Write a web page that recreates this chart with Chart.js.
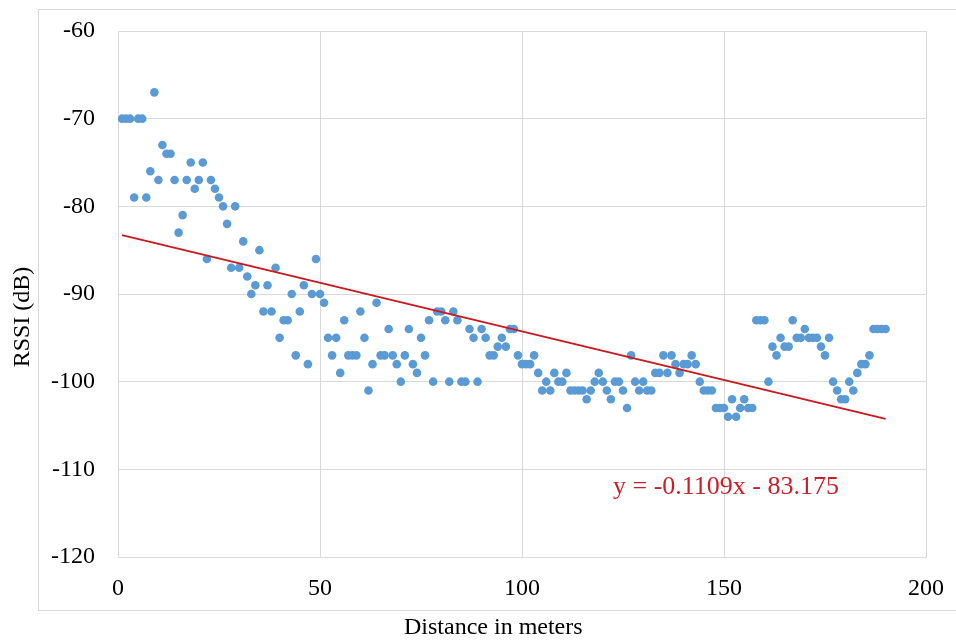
<!DOCTYPE html>
<html>
<head>
<meta charset="utf-8">
<script src="https://cdn.jsdelivr.net/npm/chart.js@4.4.1/dist/chart.umd.min.js"></script>
<style>
html,body{margin:0;padding:0;background:#fff;}
#wrap{width:956px;height:641px;position:relative;}
</style>
</head>
<body>
<div id="wrap"><canvas id="c" width="956" height="641"></canvas></div>
<script>
// ---- data ----
const distances = [
  1,2,3,4,5,6,7,8,9,10,11,12,13,14,15,16,17,18,19,20,
  21,22,23,24,25,26,27,28,29,30,31,32,33,34,35,36,37,38,39,40,
  41,42,43,44,45,46,47,48,49,50,51,52,53,54,55,56,57,58,59,60,
  61,62,63,64,65,66,67,68,69,70,71,72,73,74,75,76,77,78,79,80,
  81,82,83,84,85,86,87,88,89,90,91,92,93,94,95,96,97,98,99,100,
  101,102,103,104,105,106,107,108,109,110,111,112,113,114,115,116,117,118,119,120,
  121,122,123,124,125,126,127,128,129,130,131,132,133,134,135,136,137,138,139,140,
  141,142,143,144,145,146,147,148,149,150,151,152,153,154,155,156,157,158,159,160,
  161,162,163,164,165,166,167,168,169,170,171,172,173,174,175,176,177,178,179,180,
  181,182,183,184,185,186,187,188,189,190
];
const rssi = [
  -70,-70,-70,-79,-70,-70,-79,-76,-67,-77,-73,-74,-74,-77,-83,-81,-77,-75,-78,-77,
  -75,-86,-77,-78,-79,-80,-82,-87,-80,-87,-84,-88,-90,-89,-85,-92,-89,-92,-87,-95,
  -93,-93,-90,-97,-92,-89,-98,-90,-86,-90,-91,-95,-97,-95,-99,-93,-97,-97,-97,-92,
  -95,-101,-98,-91,-97,-97,-94,-97,-98,-100,-97,-94,-98,-99,-95,-97,-93,-100,-92,-92,
  -93,-100,-92,-93,-100,-100,-94,-95,-100,-94,-95,-97,-97,-96,-95,-96,-94,-94,-97,-98,
  -98,-98,-97,-99,-101,-100,-101,-99,-100,-100,-99,-101,-101,-101,-101,-102,-101,-100,-99,-100,
  -101,-102,-100,-100,-101,-103,-97,-100,-101,-100,-101,-101,-99,-99,-97,-99,-97,-98,-99,-98,
  -98,-97,-98,-100,-101,-101,-101,-103,-103,-103,-104,-102,-104,-103,-102,-103,-103,-93,-93,-93,
  -100,-96,-97,-95,-96,-96,-93,-95,-95,-94,-95,-95,-95,-96,-97,-95,-100,-101,-102,-102,
  -100,-101,-99,-98,-98,-97,-94,-94,-94,-94
];
const xTicks = [0, 50, 100, 150, 200];
const yTicks = [-60, -70, -80, -90, -100, -110, -120];
const trendSlope = -0.1109;
const trendIntercept = -83.175;
const trendLabel = 'y = -0.1109x - 83.175';
const xTitle = 'Distance in meters';
const yTitle = 'RSSI (dB)';

// ---- build ----
const FONT = "'Liberation Serif','Times New Roman',serif";
const points = distances.map((d, i) => ({ x: d, y: rssi[i] }));
const xMin = Math.min(...distances), xMax = Math.max(...distances);
const trend = [
  { x: xMin, y: trendIntercept + trendSlope * xMin },
  { x: xMax, y: trendIntercept + trendSlope * xMax }
];

const deco = {
  id: 'deco',
  beforeDraw(chart) {
    const ctx = chart.ctx;
    ctx.save();
    ctx.fillStyle = '#ffffff';
    ctx.fillRect(0, 0, chart.width, chart.height);
    ctx.strokeStyle = '#d9d9d9';
    ctx.lineWidth = 1;
    ctx.strokeRect(38.5, 9.5, 940, 601);
    ctx.restore();
  },
  afterDraw(chart) {
    const ctx = chart.ctx;
    ctx.save();
    ctx.fillStyle = '#000000';
    ctx.font = '24px ' + FONT;
    ctx.textBaseline = 'alphabetic';
    ctx.textAlign = 'left';
    ctx.fillText(xTitle, 404, 634);
    ctx.translate(29, 317);
    ctx.rotate(-Math.PI / 2);
    ctx.textAlign = 'center';
    ctx.fillText(yTitle, 0, 0);
    ctx.restore();

    ctx.save();
    ctx.fillStyle = '#c8202a';
    ctx.font = '26px ' + FONT;
    ctx.textAlign = 'left';
    ctx.textBaseline = 'alphabetic';
    ctx.fillText(trendLabel, 613, 494);
    ctx.restore();
  }
};

new Chart(document.getElementById('c'), {
  type: 'scatter',
  data: {
    datasets: [
      {
        type: 'line',
        data: trend,
        borderColor: '#cc1820',
        borderWidth: 2,
        pointRadius: 0,
        fill: false,
        order: 0
      },
      {
        data: points,
        backgroundColor: '#5b9bd5',
        borderWidth: 0,
        pointRadius: 4.3,
        order: 1
      }
    ]
  },
  options: {
    responsive: false,
    animation: false,
    devicePixelRatio: 1,
    layout: { padding: { left: 0, top: 31, right: 30, bottom: 0 } },
    plugins: { legend: { display: false }, tooltip: { enabled: false } },
    scales: {
      x: {
        type: 'linear',
        min: xTicks[0],
        max: xTicks[xTicks.length - 1],
        afterBuildTicks: s => { s.ticks = xTicks.map(v => ({ value: v })); },
        afterFit: s => { s.height = 84; },
        grid: { color: '#d9d9d9', lineWidth: 1, drawTicks: true, tickLength: 14, tickColor: 'rgba(0,0,0,0)' },
        border: { display: true, color: '#d9d9d9' },
        ticks: { color: '#000', font: { family: FONT, size: 24 }, padding: 3, maxRotation: 0 }
      },
      y: {
        type: 'linear',
        min: yTicks[yTicks.length - 1],
        max: yTicks[0],
        afterBuildTicks: s => { s.ticks = yTicks.slice().reverse().map(v => ({ value: v })); },
        afterFit: s => { s.width = 118; },
        grid: { color: '#d9d9d9', lineWidth: 1, drawTicks: true, tickLength: 20, tickColor: 'rgba(0,0,0,0)' },
        border: { display: true, color: '#d9d9d9' },
        ticks: { color: '#000', font: { family: FONT, size: 24 }, padding: 3 }
      }
    }
  },
  plugins: [deco]
});
</script>
</body>
</html>
